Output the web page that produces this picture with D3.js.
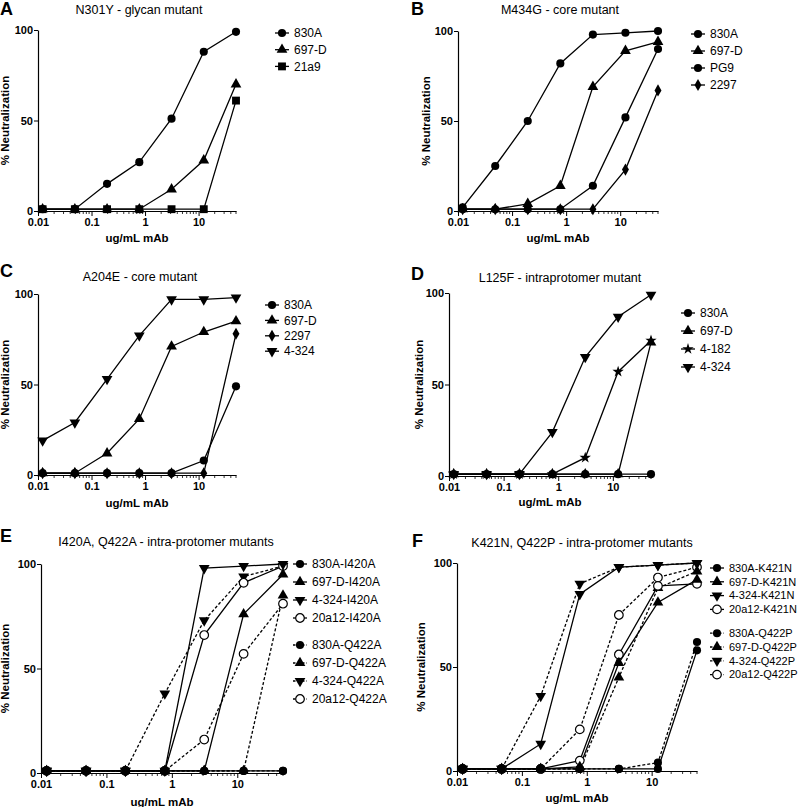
<!DOCTYPE html>
<html><head><meta charset="utf-8">
<script src="https://cdn.jsdelivr.net/npm/d3@7"></script>
<style>
html,body{margin:0;padding:0;background:#fff;}
svg{display:block;font-family:"Liberation Sans",Arial,Helvetica,sans-serif;}
</style>
</head><body>
<svg id="chart" width="800" height="807"></svg>
<script>
// ---------- DATA ----------
const conc = [0.0122, 0.0488, 0.195, 0.781, 3.125, 12.5, 50];
const xTickValues = [0.01, 0.1, 1, 10];
const xTickLabels = ["0.01", "0.1", "1", "10"];
const yTickValues = [0, 50, 100];
const yTickLabels = ["0", "50", "100"];

// Panel A: N301Y
const a830A = [1, 1, 15, 27, 51, 88, 99];
const a697D = [1, 1, 1, 1, 12, 28, 70];
const a21a9 = [1, 1, 1, 1, 1, 1, 61];
// Panel B: M434G
const b830A = [2, 25, 50, 82, 98, 99, 100];
const b697D = [1, 1, 4, 14, 69, 89, 94];
const bPG9  = [1, 1, 1, 1, 14, 52, 90];
const b2297 = [1, 1, 1, 1, 1, 23, 67];
// Panel C: A204E
const c830A = [1, 1, 1, 1, 1, 8, 49];
const c697D = [1, 1, 12, 31, 71, 79, 85];
const c2297 = [1, 1, 1, 1, 1, 1, 78];
const c4324 = [19, 29, 53, 77, 97, 97, 98];
// Panel D: L125F
const d830A = [1, 1, 1, 1, 1, 1, 1];
const d697D = [1, 1, 1, 1, 1, 1, 73];
const d4182 = [1, 1, 1, 1, 10, 57, 74];
const d4324 = [1, 1, 1, 24, 65, 87, 99];
// Panel E: I420A / Q422A
const e830A_I420A  = [1, 1, 1, 1, 1, 1, 1];
const e697D_I420A  = [1, 1, 1, 1, 1, 76, 95];
const e4324_I420A  = [1, 1, 1, 1, 98, 99, 100];
const e20a12_I420A = [1, 1, 1, 1, 66, 91, 99];
const e830A_Q422A  = [1, 1, 1, 1, 1, 1, 1];
const e697D_Q422A  = [1, 1, 1, 1, 1, 1, 85];
const e4324_Q422A  = [1, 1, 1, 38, 73, 94, 99];
const e20a12_Q422A = [1, 1, 1, 1, 16, 57, 81];
// Panel F: K421N / Q422P
const f830A_K421N  = [1, 1, 1, 1, 1, 1, 58];
const f697D_K421N  = [1, 1, 1, 2, 52, 81, 92];
const f4324_K421N  = [1, 1, 13, 85, 98, 99, 100];
const f20a12_K421N = [1, 1, 1, 5, 56, 89, 90];
const f830A_Q422P  = [1, 1, 1, 1, 1, 4, 62];
const f697D_Q422P  = [1, 1, 1, 1, 45, 88, 96];
const f4324_Q422P  = [1, 1, 36, 90, 98, 99, 100];
const f20a12_Q422P = [1, 1, 1, 20, 75, 93, 98];

// ---------- LAYOUT / STYLE ----------
const panels = [
  {letter:"A", title:"N301Y - glycan mutant", lx:0, ly:15, tx:139, ty:14, x:[38,236], y:[211,30], ylab:5, xlabY:242, tp:2,
   leg:{x:282, y:33, dy:16.7, gapAt:-1},
   series:[{name:"830A",v:a830A,s:"circle"},{name:"697-D",v:a697D,s:"tri"},{name:"21a9",v:a21a9,s:"square"}]},
  {letter:"B", title:"M434G - core mutant", lx:411, ly:15, tx:560, ty:14, x:[458,658], y:[211,31], ylab:426, xlabY:242, tp:2,
   leg:{x:698, y:34, dy:17, gapAt:-1},
   series:[{name:"830A",v:b830A,s:"circle"},{name:"697-D",v:b697D,s:"tri"},{name:"PG9",v:bPG9,s:"circle"},{name:"2297",v:b2297,s:"diamond"}]},
  {letter:"C", title:"A204E - core mutant", lx:0, ly:277, tx:140, ty:281, x:[38,236], y:[475,294], ylab:5, xlabY:507, tp:2,
   leg:{x:272, y:305, dy:15.4, gapAt:-1},
   series:[{name:"830A",v:c830A,s:"circle"},{name:"697-D",v:c697D,s:"tri"},{name:"2297",v:c2297,s:"diamond"},{name:"4-324",v:c4324,s:"tridown"}]},
  {letter:"D", title:"L125F - intraprotomer mutant", lx:411, ly:280, tx:560, ty:282, x:[449,651], y:[476,293], ylab:419, xlabY:506, tp:2,
   leg:{x:688, y:313, dy:18, gapAt:-1},
   series:[{name:"830A",v:d830A,s:"circle"},{name:"697-D",v:d697D,s:"tri"},{name:"4-182",v:d4182,s:"star"},{name:"4-324",v:d4324,s:"tridown"}]},
  {letter:"E", title:"I420A, Q422A - intra-protomer mutants", lx:0, ly:542, tx:166, ty:546, x:[41,283], y:[773,564], ylab:5, xlabY:806, tp:2,
   leg:{x:300, y:564, dy:18, gapAt:4, gap:9},
   series:[{name:"830A-I420A",v:e830A_I420A,s:"circle"},{name:"697-D-I420A",v:e697D_I420A,s:"tri"},{name:"4-324-I420A",v:e4324_I420A,s:"tridown"},{name:"20a12-I420A",v:e20a12_I420A,s:"open"},
           {name:"830A-Q422A",v:e830A_Q422A,s:"circle",dash:true},{name:"697-D-Q422A",v:e697D_Q422A,s:"tri",dash:true},{name:"4-324-Q422A",v:e4324_Q422A,s:"tridown",dash:true},{name:"20a12-Q422A",v:e20a12_Q422A,s:"open",dash:true}]},
  {letter:"F", title:"K421N, Q422P - intra-protomer mutants", lx:412, ly:547, tx:582, ty:547, x:[457,697], y:[771,563], ylab:421, xlabY:802, tp:2,
   leg:{x:717, y:568, dy:13.8, gapAt:4, gap:10},
   series:[{name:"830A-K421N",v:f830A_K421N,s:"circle"},{name:"697-D-K421N",v:f697D_K421N,s:"tri"},{name:"4-324-K421N",v:f4324_K421N,s:"tridown"},{name:"20a12-K421N",v:f20a12_K421N,s:"open"},
           {name:"830A-Q422P",v:f830A_Q422P,s:"circle",dash:true},{name:"697-D-Q422P",v:f697D_Q422P,s:"tri",dash:true},{name:"4-324-Q422P",v:f4324_Q422P,s:"tridown",dash:true},{name:"20a12-Q422P",v:f20a12_Q422P,s:"open",dash:true}]}
];

const svg = d3.select("#chart");

function symbolPath(s){
  const m = {circle:[d3.symbolCircle,52], open:[d3.symbolCircle,58], tri:[d3.symbolTriangle,50], tridown:[d3.symbolTriangle,50],
             square:[d3.symbolSquare,62], diamond:[d3.symbolDiamond,42], star:[d3.symbolStar,40]}[s];
  return d3.symbol().type(m[0]).size(m[1])();
}
function drawMarker(g, s, cx, cy){
  const p = g.append("path").attr("d", symbolPath(s))
    .attr("transform", `translate(${cx},${cy})` + (s==="tridown" ? " rotate(180)" : ""));
  if (s === "open") p.attr("fill","#fff").attr("stroke","#000").attr("stroke-width",1.2);
  else p.attr("fill","#000");
}

panels.forEach(P => {
  const g = svg.append("g");
  const x = d3.scaleLog().domain([0.01, 50]).range(P.x);
  const y = d3.scaleLinear().domain([0, 100]).range(P.y);

  // letter & title
  g.append("text").attr("x",P.lx).attr("y",P.ly).attr("font-size",18).attr("font-weight","bold").text(P.letter);
  g.append("text").attr("x",P.tx).attr("y",P.ty).attr("text-anchor","middle").attr("font-size",12.5).text(P.title);

  // x axis
  const xa = g.append("g").attr("transform",`translate(0,${y(0)})`)
    .call(d3.axisBottom(x).tickValues(xTickValues).tickFormat((d,i)=>xTickLabels[i]).tickSize(5).tickSizeOuter(0).tickPadding(P.tp));
  xa.select(".domain").attr("stroke","#000").attr("stroke-width",1.2);
  xa.selectAll("text").attr("font-size",11).attr("font-weight","bold").attr("font-family","Liberation Sans, Arial, sans-serif").attr("fill","#000");
  xa.selectAll("line").attr("stroke-width",1);
  const minor = x.ticks().filter(t => !xTickValues.some(v => Math.abs(v - t) < 1e-9));
  g.append("g").selectAll("line").data(minor).join("line")
    .attr("x1",d=>x(d)).attr("x2",d=>x(d)).attr("y1",y(0)).attr("y2",y(0)+3).attr("stroke","#000").attr("stroke-width",0.8);

  // y axis
  const ya = g.append("g").attr("transform",`translate(${x(0.01)},0)`)
    .call(d3.axisLeft(y).tickValues(yTickValues).tickFormat((d,i)=>yTickLabels[i]).tickSize(4).tickSizeOuter(0).tickPadding(1));
  ya.select(".domain").attr("stroke","#000").attr("stroke-width",1.2);
  ya.selectAll("text").attr("font-size",11).attr("font-weight","bold").attr("font-family","Liberation Sans, Arial, sans-serif").attr("fill","#000");

  // axis titles
  g.append("text").attr("transform",`translate(${P.ylab},${(P.y[0]+P.y[1])/2}) rotate(-90)`).attr("dy","0.35em")
    .attr("text-anchor","middle").attr("font-size",11.5).attr("font-weight","bold").text("% Neutralization");
  g.append("text").attr("x",(P.x[0]+P.x[1])/2).attr("y",P.xlabY).attr("text-anchor","middle")
    .attr("font-size",11.5).attr("font-weight","bold").text("ug/mL mAb");

  // series lines
  const line = d3.line().x((d,i)=>x(conc[i])).y(d=>y(d));
  P.series.forEach(S => {
    g.append("path").datum(S.v).attr("d",line).attr("fill","none").attr("stroke","#000").attr("stroke-width",1.3)
      .attr("stroke-dasharray", S.dash ? "3,2" : null);
  });
  P.series.slice().reverse().forEach(S => {
    S.v.forEach((d,i) => drawMarker(g, S.s, x(conc[i]), y(d)));
  });

  // legend
  let ly = P.leg.y;
  P.series.forEach((S,i) => {
    if (i === P.leg.gapAt) ly += P.leg.gap;
    const cx = P.leg.x;
    g.append("line").attr("x1",cx-7).attr("x2",cx+7).attr("y1",ly).attr("y2",ly).attr("stroke","#000").attr("stroke-width",1.3)
      .attr("stroke-dasharray", S.dash ? "2.5,2" : null);
    drawMarker(g, S.s, cx, ly);
    g.append("text").attr("x",cx+12).attr("y",ly).attr("dy","0.35em").attr("font-size", P.letter==="F" ? 11 : 12).text(S.name);
    ly += P.leg.dy;
  });
});
</script>
</body></html>
